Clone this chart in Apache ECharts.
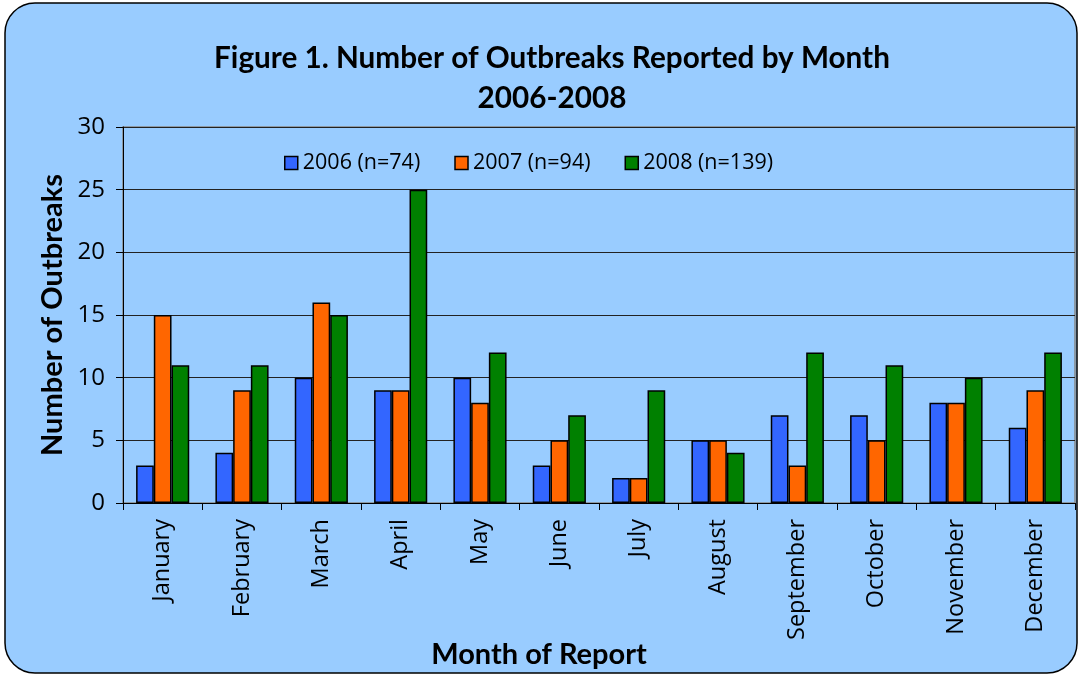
<!DOCTYPE html>
<html>
<head>
<meta charset="utf-8">
<script src="https://cdn.jsdelivr.net/npm/echarts@6/dist/echarts.min.js"></script>
<style>
  html, body { margin: 0; padding: 0; background: #ffffff; }
  #chart { width: 1078px; height: 676px; }
</style>
</head>
<body>
<div id="chart"></div>
<script>
// data
const months = ["January", "February", "March", "April", "May", "June",
  "July", "August", "September", "October", "November", "December"];
const y2006 = [3, 4, 10, 9, 10, 3, 2, 5, 7, 7, 8, 6];
const y2007 = [15, 9, 16, 9, 8, 5, 2, 5, 3, 5, 8, 9];
const y2008 = [11, 11, 15, 25, 12, 7, 9, 4, 12, 11, 10, 12];
const seriesNames = ["2006 (n=74)", "2007 (n=94)", "2008 (n=139)"];
const colors = ["#3366FF", "#FF6600", "#008000"];

const boldFont = "Lato, sans-serif";
const font = "'Open Sans', sans-serif";

const chart = echarts.init(document.getElementById("chart"));

const makeSeries = (name, data, color) => ({
  name: name,
  type: "bar",
  data: data,
  barGap: "0%",
  barCategoryGap: "33%",
  itemStyle: { color: color, borderColor: "#000", borderWidth: 1.5 },
});

const option = {
  backgroundColor: "#ffffff",
  graphic: [
    {
      type: "rect",
      z: -10,
      shape: { x: 5, y: 3, width: 1072, height: 670, r: 30 },
      style: { fill: "#99CCFF", stroke: "#000", lineWidth: 1.5 },
    },
  ],
  title: {
    text: "Figure 1. Number of Outbreaks Reported by Month\n2006-2008",
    left: 547,
    top: 33,
    textAlign: "center",
    textStyle: {
      fontFamily: boldFont,
      fontWeight: "bold",
      fontSize: 29.7,
      color: "#000",
      lineHeight: 40,
    },
  },
  legend: {
    data: seriesNames,
    left: 279,
    top: 147,
    itemWidth: 13,
    itemHeight: 13,
    itemGap: 34,
    icon: "rect",
    itemStyle: { borderColor: "#000", borderWidth: 1.5 },
    textStyle: { fontFamily: font, fontSize: 21.5, color: "#000" },
  },
  grid: {
    left: 123,
    right: 3,
    top: 127,
    bottom: 173,
    show: true,
    borderColor: "#888",
    borderWidth: 1.5,
    outerBoundsMode: "none",
    containLabel: false,
  },
  xAxis: {
    type: "category",
    data: months,
    name: "Month of Report",
    nameLocation: "middle",
    nameGap: 137,
    nameMoveOverlap: false,
    nameTextStyle: {
      fontFamily: boldFont,
      fontWeight: "bold",
      fontSize: 29,
      color: "#000",
      padding: [0, 120, 0, 0],
    },
    axisLine: { lineStyle: { color: "#000", width: 1 } },
    axisTick: { show: true, length: 7, lineStyle: { color: "#000" } },
    axisLabel: {
      rotate: 90,
      fontFamily: font,
      fontSize: 23.5,
      color: "#000",
      margin: 16,
    },
  },
  yAxis: {
    type: "value",
    min: 0,
    max: 30,
    interval: 5,
    name: "Number of Outbreaks",
    nameLocation: "middle",
    nameGap: 56,
    nameMoveOverlap: false,
    nameTextStyle: { fontFamily: boldFont, fontWeight: "bold", fontSize: 29, color: "#000" },
    axisLine: { show: true, lineStyle: { color: "#000", width: 1 } },
    axisTick: { show: true, length: 7, lineStyle: { color: "#000" } },
    axisLabel: { fontFamily: font, fontSize: 24, color: "#000", margin: 18 },
    splitLine: { lineStyle: { color: "#222", width: 1 } },
  },
  series: [
    makeSeries(seriesNames[0], y2006, colors[0]),
    makeSeries(seriesNames[1], y2007, colors[1]),
    makeSeries(seriesNames[2], y2008, colors[2]),
  ],
};

chart.setOption(option);
</script>
</body>
</html>
